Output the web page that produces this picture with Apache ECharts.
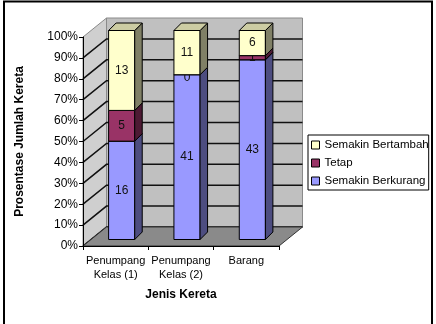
<!DOCTYPE html>
<html>
<head>
<meta charset="utf-8">
<script src="https://cdn.jsdelivr.net/npm/echarts@6/dist/echarts.min.js"></script>
<style>
html,body{margin:0;padding:0;background:#fff;}
#chart{width:436px;height:324px;}
</style>
</head>
<body>
<div id="chart"></div>
<script>
// ---- data ----
const categories = ['Penumpang\nKelas (1)', 'Penumpang\nKelas (2)', 'Barang'];
const seriesNames = ['Semakin Berkurang', 'Tetap', 'Semakin Bertambah'];
const berkurang = [16, 41, 43];
const tetap = [5, 0, 1];
const bertambah = [13, 11, 6];
const yTicks = [0, 10, 20, 30, 40, 50, 60, 70, 80, 90, 100];
const legendOrder = ['Semakin Bertambah', 'Tetap', 'Semakin Berkurang'];

// ---- style constants ----
const FONT = 'Liberation Sans, Arial, sans-serif';
const DX = 23.5, DY = -19;          // depth of 3D box
const OFF_X = 6, OFF_Y = -6.5;      // bar front face offset inside box
const BD = 7.5;                     // bar depth
const faces = [
  {front: '#9999FF', side: '#4D4D80', top: '#7A7ACC'},
  {front: '#993366', side: '#4D1A33', top: '#7A2952'},
  {front: '#FFFFCC', side: '#808066', top: '#CCCCA3'}
];

const raw = [berkurang, tetap, bertambah];
const totals = categories.map((c, i) => raw.reduce((s, arr) => s + arr[i], 0));

function stackData(sIdx) {
  return categories.map((c, i) => {
    let bottom = 0;
    for (let k = 0; k < sIdx; k++) bottom += raw[k][i];
    const b = bottom / totals[i] * 100;
    const t = (bottom + raw[sIdx][i]) / totals[i] * 100;
    return [i, b, t, raw[sIdx][i]];
  });
}

function barRender(f) {
  return function (params, api) {
    const i = api.value(0), b = api.value(1), t = api.value(2), v = api.value(3);
    const pb = api.coord([i, b]), pt = api.coord([i, t]);
    const bw = api.size([1, 0])[0] / 2.5;
    const xl = pb[0] - bw / 2 + OFF_X, xr = xl + bw;
    const yb = pb[1] + OFF_Y, yt = pt[1] + OFF_Y;
    const children = [];
    const ls = {stroke: '#000', lineWidth: 1};
    if (yb - yt > 0.01) {
      children.push({type: 'polygon', shape: {points: [[xl, yb], [xr, yb], [xr, yt], [xl, yt]]},
        style: Object.assign({fill: f.front}, ls)});
      children.push({type: 'polygon', shape: {points: [[xr, yb], [xr + BD, yb - BD], [xr + BD, yt - BD], [xr, yt]]},
        style: Object.assign({fill: f.side}, ls)});
      children.push({type: 'polygon', shape: {points: [[xl, yt], [xr, yt], [xr + BD, yt - BD], [xl + BD, yt - BD]]},
        style: Object.assign({fill: f.top}, ls)});
    }
    children.push({type: 'text', z2: 100, style: {
      text: String(v), x: (xl + xr) / 2, y: (yb + yt) / 2 + (yb - yt < 1 ? 3 : 0),
      align: 'center', verticalAlign: 'middle', fill: '#111', font: '12px ' + FONT}});
    return {type: 'group', children: children};
  };
}

function wallRender(params, api) {
  const cs = params.coordSys;
  const x0 = cs.x, x1 = cs.x + cs.width, yT = cs.y, yB = cs.y + cs.height;
  const ch = [];
  // side wall
  ch.push({type: 'polygon', shape: {points: [[x0, yB], [x0, yT], [x0 + DX, yT + DY], [x0 + DX, yB + DY]]},
    style: {fill: '#CFCFCF', stroke: '#8A8A8A', lineWidth: 1}});
  // back wall
  ch.push({type: 'polygon', shape: {points: [[x0 + DX, yB + DY], [x0 + DX, yT + DY], [x1 + DX, yT + DY], [x1 + DX, yB + DY]]},
    style: {fill: '#C0C0C0', stroke: '#8A8A8A', lineWidth: 1}});
  // gridlines
  yTicks.forEach(v => {
    if (v >= 100) return;
    const y = api.coord([0, v])[1];
    ch.push({type: 'polyline', shape: {points: [[x0, y], [x0 + DX, y + DY], [x1 + DX, y + DY]]},
      style: {stroke: '#111', lineWidth: 1.5, fill: null}});
  });
  // floor
  ch.push({type: 'polygon', shape: {points: [[x0, yB], [x1, yB], [x1 + DX, yB + DY], [x0 + DX, yB + DY]]},
    style: {fill: '#8A8A8A', stroke: '#333', lineWidth: 1}});
  return {type: 'group', children: ch};
}

const series = [{
  type: 'custom', name: '_walls', renderItem: wallRender, data: [[0, 0]],
  encode: {x: 0, y: 1}, silent: true, z: 1
}];
seriesNames.forEach((n, s) => {
  series.push({
    type: 'custom', name: n, renderItem: barRender(faces[s]), data: stackData(s),
    encode: {x: 0, y: [1, 2]}, itemStyle: {color: faces[s].front}, z: 2 + s
  });
});

const chart = echarts.init(document.getElementById('chart'), null, {renderer: 'canvas'});
chart.setOption({
  animation: false,
  backgroundColor: '#fff',
  textStyle: {fontFamily: FONT},
  grid: {left: 83, top: 37, width: 196, height: 209, containLabel: false},
  xAxis: {
    type: 'category', data: categories, z: 10,
    axisLine: {lineStyle: {color: '#000', width: 1}},
    axisTick: {show: true, length: 4, lineStyle: {color: '#000'}},
    axisLabel: {fontSize: 11, color: '#000', lineHeight: 14, margin: 8, fontFamily: FONT, interval: 0},
    name: 'Jenis Kereta', nameLocation: 'middle', nameGap: 43,
    nameTextStyle: {fontSize: 12, fontWeight: 'bold', color: '#000', fontFamily: FONT}
  },
  yAxis: {
    type: 'value', min: 0, max: 100, interval: 10, z: 10,
    axisLine: {show: true, lineStyle: {color: '#000', width: 1}},
    axisTick: {show: true, length: 4, lineStyle: {color: '#000'}},
    splitLine: {show: false},
    axisLabel: {formatter: '{value}%', fontSize: 12, color: '#000', margin: 5, fontFamily: FONT},
    name: 'Prosentase Jumlah Kereta', nameLocation: 'middle', nameGap: 57,
    nameTextStyle: {fontSize: 12, fontWeight: 'bold', color: '#000', fontFamily: FONT}
  },
  legend: {
    data: legendOrder, orient: 'vertical', left: 308, top: 135,
    icon: 'rect', itemWidth: 8, itemHeight: 8, itemGap: 6,
    padding: [4, 0, 3, 3], borderColor: '#000', borderWidth: 1, backgroundColor: '#fff',
    itemStyle: {borderColor: '#000', borderWidth: 1},
    textStyle: {fontSize: 11.5, color: '#000', fontFamily: FONT, width: 106, overflow: 'truncate', ellipsis: ''}
  },
  graphic: [{
    type: 'rect', shape: {x: 4, y: 1.5, width: 428, height: 330}, silent: true,
    style: {fill: null, stroke: '#000', lineWidth: 2}
  }],
  series: series
});
</script>
</body>
</html>
